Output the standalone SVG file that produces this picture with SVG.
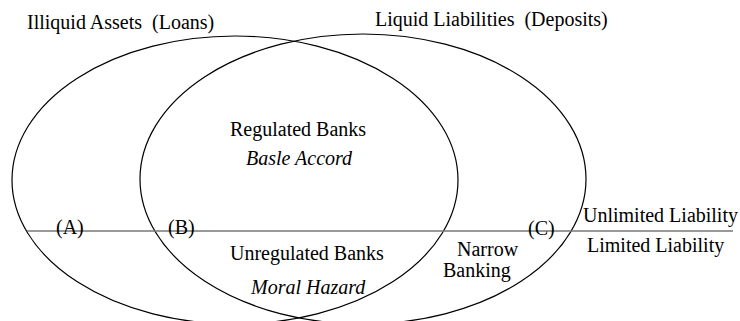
<svg xmlns="http://www.w3.org/2000/svg" width="740" height="321" viewBox="0 0 740 321">
<style>
text{font-family:"Liberation Serif","Times New Roman",serif;font-size:20px;fill:#000;white-space:pre}
.it{font-style:italic}
.set{fill:none;stroke:#000;stroke-width:1.2}
.div{stroke:#777;stroke-width:1.6}
</style>
<rect width="740" height="321" fill="#fff"/>
<g id="illiquid-assets">
<ellipse class="set" cx="235" cy="180" rx="223" ry="144"/>
<text x="27" y="29" xml:space="preserve">Illiquid Assets  (Loans)</text>
</g>
<g id="liquid-liabilities">
<ellipse class="set" cx="363" cy="179" rx="223" ry="145"/>
<text x="375" y="26" xml:space="preserve">Liquid Liabilities  (Deposits)</text>
</g>
<g id="connectors">
<line class="div" x1="27" y1="231" x2="733" y2="231"/>
</g>
<g id="regulated">
<text x="230" y="136">Regulated Banks</text>
<text class="it" x="246" y="165">Basle Accord</text>
</g>
<g id="unregulated">
<text x="230" y="260">Unregulated Banks</text>
<text class="it" x="251" y="294">Moral Hazard</text>
</g>
<g id="narrow">
<text x="457" y="256">Narrow</text>
<text x="443" y="277">Banking</text>
</g>
<g id="labels">
<text x="56" y="234">(A)</text>
<text x="168" y="234">(B)</text>
<text x="528" y="235">(C)</text>
</g>
<g id="liability">
<text x="583" y="222">Unlimited Liability</text>
<text x="587" y="252">Limited Liability</text>
</g>
</svg>
